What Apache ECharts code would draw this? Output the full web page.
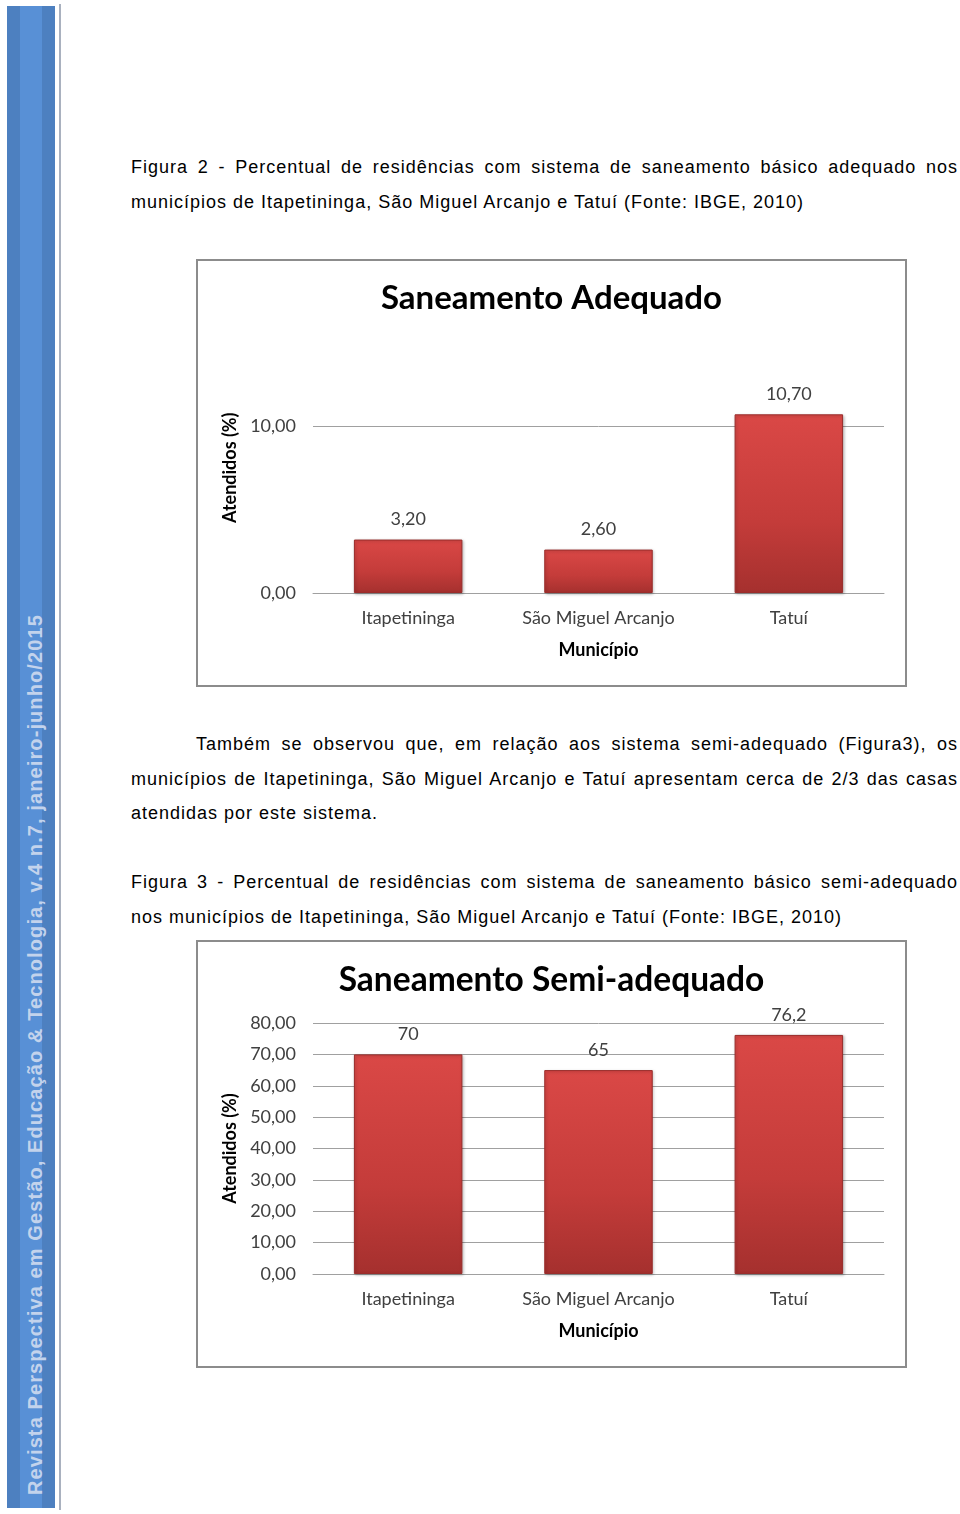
<!DOCTYPE html>
<html>
<head>
<meta charset="utf-8">
<script src="https://cdn.jsdelivr.net/npm/echarts@6/dist/echarts.min.js"></script>
<style>
  html, body { margin: 0; padding: 0; background: #ffffff; }
  body { width: 960px; height: 1514px; position: relative; overflow: hidden; font-family: "Liberation Sans", Arial, sans-serif; }
  #sideOuter { position: absolute; left: 7px; top: 6px; width: 48px; height: 1502px; background: #4d80c0; }
  #sideInner { position: absolute; left: 20px; top: 6px; width: 22px; height: 1502px; background: #5890d6; }
  #sideLine { position: absolute; left: 59px; top: 4px; width: 2px; height: 1506px; background: #a9b1bf; }
  #sideText { position: absolute; left: 35px; top: 1495px; transform-origin: 0 0; transform: rotate(-90deg) translate(0, -12px);
    white-space: nowrap; font: bold 20px "Liberation Sans", Arial, sans-serif; letter-spacing: 1.1px; color: #c3d3ec; line-height: 24px; }
  .p { position: absolute; left: 131px; width: 827px; font-size: 18px; letter-spacing: 1px; line-height: 34.5px; color: #000; text-align: justify; text-align-last: left; }
  .box { position: absolute; left: 196px; width: 707px; height: 424px; border: 2px solid #8c8c8c; }
  .chart { position: absolute; left: 196px; width: 711px; height: 428px; }
</style>
</head>
<body>
<div id="sideOuter"></div>
<div id="sideInner"></div>
<div id="sideLine"></div>
<div id="sideText">Revista Perspectiva em Gestão, Educação &amp; Tecnologia, v.4 n.7, janeiro-junho/2015</div>

<div class="p" style="top:150px;">Figura 2 - Percentual de residências com sistema de saneamento básico adequado nos municípios de Itapetininga, São Miguel Arcanjo e Tatuí (Fonte: IBGE, 2010)</div>

<div class="box" style="top:259px;"></div>
<div class="chart" id="c1" style="top:259px;"></div>

<div class="p" style="top:727px; text-indent:65px;">Também se observou que, em relação aos sistema semi-adequado (Figura3), os municípios de Itapetininga, São Miguel Arcanjo e Tatuí apresentam cerca de 2/3 das casas atendidas por este sistema.</div>

<div class="p" style="top:865px;">Figura 3 - Percentual de residências com sistema de saneamento básico semi-adequado nos municípios de Itapetininga, São Miguel Arcanjo e Tatuí (Fonte: IBGE, 2010)</div>

<div class="box" style="top:940px;"></div>
<div class="chart" id="c2" style="top:940px;"></div>

<script>
// ---- data ----
var municipios = ["Itapetininga", "São Miguel Arcanjo", "Tatuí"];
var adequado = [3.20, 2.60, 10.70];
var adequadoLabels = ["3,20", "2,60", "10,70"];
var semiAdequado = [70, 65, 76.2];
var semiLabels = ["70", "65", "76,2"];
var adequadoTicks = [0, 10];
var semiTicks = [0, 10, 20, 30, 40, 50, 60, 70, 80];

var FONT = "Lato, 'Open Sans', sans-serif";

function fmtComma(v) { return v.toFixed(2).replace('.', ','); }

function buildOption(title, titleSize, values, labels, axisMax, interval, gridTop, gridHeight) {
  var barColor = new echarts.graphic.LinearGradient(0, 0, 0, 1, [
    { offset: 0, color: '#da4846' },
    { offset: 0.6, color: '#c43c3a' },
    { offset: 1, color: '#a5302e' }
  ]);
  return {
    animation: false,
    title: {
      text: title, left: 'center', top: 18,
      textStyle: { fontFamily: FONT, fontWeight: 'bold', fontSize: titleSize, color: '#000' }
    },
    grid: { left: 117, top: gridTop, width: 571, height: gridHeight },
    xAxis: {
      type: 'category', data: municipios,
      name: 'Município', nameLocation: 'middle', nameGap: 48,
      nameTextStyle: { fontFamily: FONT, fontWeight: 'bold', fontSize: 18, color: '#000' },
      axisLine: { show: true, lineStyle: { color: '#a0a0a0', width: 1 } },
      axisTick: { show: false },
      axisLabel: { interval: 0, fontFamily: FONT, fontSize: 18, color: '#404040', margin: 16 }
    },
    yAxis: {
      type: 'value', min: 0, max: axisMax, interval: interval,
      name: 'Atendidos (%)', nameLocation: 'middle', nameGap: 71,
      nameTextStyle: { fontFamily: FONT, fontWeight: 'bold', fontSize: 18, color: '#000' },
      axisLine: { show: false }, axisTick: { show: false },
      axisLabel: { fontFamily: FONT, fontSize: 18, color: '#404040', margin: 17,
        showMaxLabel: axisMax % interval === 0,
        formatter: function (v) { return fmtComma(v); } },
      splitLine: { show: true, showMaxLine: axisMax % interval === 0, lineStyle: { color: '#a0a0a0', width: 1 } }
    },
    series: [{
      type: 'bar', data: values, barWidth: '57%',
      itemStyle: { color: barColor, borderColor: '#9a2d2b', borderWidth: 1,
        shadowColor: 'rgba(0,0,0,0.25)', shadowBlur: 3, shadowOffsetX: 1, shadowOffsetY: 1 },
      label: { show: true, position: 'top', distance: 11,
        fontFamily: FONT, fontSize: 18, color: '#404040',
        formatter: function (p) { return labels[p.dataIndex]; } }
    }]
  };
}

var c1 = echarts.init(document.getElementById('c1'));
c1.setOption(buildOption('Saneamento Adequado', 33, adequado, adequadoLabels, 15, 10, 83.5, 250.5));

var c2 = echarts.init(document.getElementById('c2'));
c2.setOption(buildOption('Saneamento Semi-adequado', 33.5, semiAdequado, semiLabels, 80, 10, 83, 251));
</script>
</body>
</html>
